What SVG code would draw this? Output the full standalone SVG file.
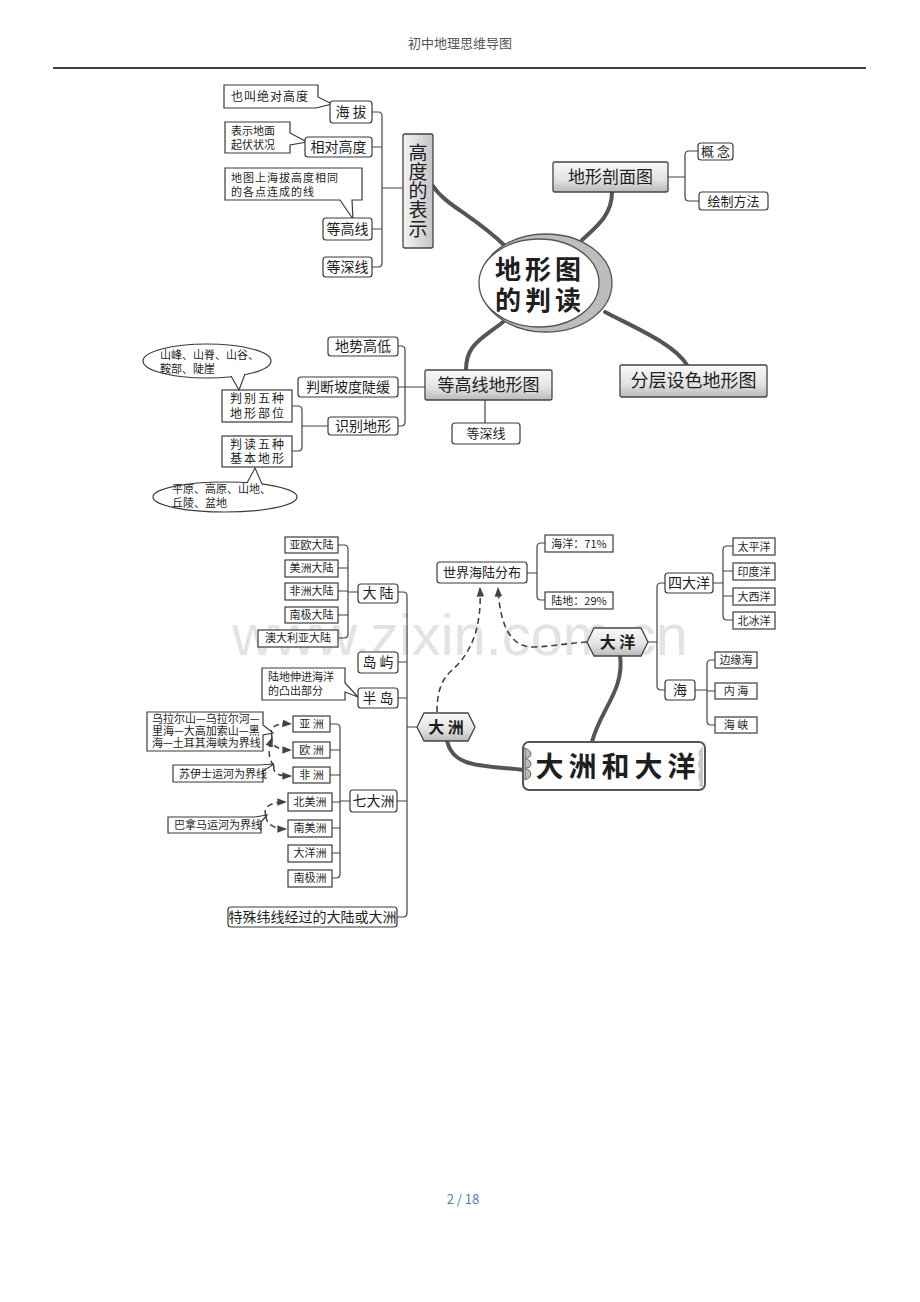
<svg xmlns="http://www.w3.org/2000/svg" width="920" height="1302" viewBox="0 0 920 1302">
<style>
.b{fill:#fff;stroke:#3a3a3a;stroke-width:1.2}
.g{fill:url(#gr);stroke:#444;stroke-width:1.3}
.gh{fill:url(#gh);stroke:#444;stroke-width:1.3}
.l{fill:none;stroke:#444;stroke-width:1.2}
.d{fill:none;stroke:#444;stroke-width:1.6;stroke-dasharray:6 4}
.c{fill:none;stroke:#555;stroke-width:4;stroke-linecap:round}
.t{font-family:"Noto Sans CJK SC","Noto Sans",sans-serif;fill:#1e1e1e;text-anchor:middle}
.s{font-family:"Noto Sans CJK SC","Noto Sans",sans-serif;fill:#1e1e1e;text-anchor:start;font-size:11px}
</style>
<defs>
<linearGradient id="gr" x1="0" y1="0" x2="0" y2="1"><stop offset="0" stop-color="#fafafa"/><stop offset="0.6" stop-color="#e2e2e2"/><stop offset="1" stop-color="#b9b9b9"/></linearGradient>
<linearGradient id="gh" x1="0" y1="0" x2="1" y2="0"><stop offset="0" stop-color="#f4f4f4"/><stop offset="1" stop-color="#c4c4c4"/></linearGradient>
<marker id="ar" viewBox="0 0 10 10" refX="9" refY="5" markerWidth="6" markerHeight="6" orient="auto"><path d="M0,1 L10,5 L0,9 Z" fill="#444"/></marker>
</defs>
<rect width="920" height="1302" fill="#fff"/>
<text x="460" y="655" font-family="Liberation Sans, sans-serif" font-size="57" fill="#e3e3e3" text-anchor="middle" textLength="456" lengthAdjust="spacingAndGlyphs">www.zixin.com.cn</text>
<g id="header"><text class="t" x="460" y="48" font-size="13" style="fill:#555">初中地理思维导图</text><line x1="53" y1="68" x2="866" y2="68" stroke="#000" stroke-width="1.3"/></g>
<g id="footer"><text class="t" x="463" y="1204" font-size="13" style="fill:#4f81bd">2 / 18</text></g>

<g id="connectors">
<path class="c" d="M433,186 C446,206 472,214 505,246"/>
<path class="c" d="M612,192 C612,215 597,226 582,240"/>
<path class="c" d="M503,322 C480,340 466,345 466,370"/>
<path class="c" d="M605,312 C640,330 675,345 687,365"/>
<path class="c" d="M447,740 C452,770 490,765 523,770"/>
<path class="c" d="M620,655 C625,690 600,710 592,742"/>
<path class="l" d="M372,112 H378 Q382,112 382,116 V263 Q382,267 378,267 H372 M372,147 H382 M372,229 H382 M382,188 H403"/>
<path class="l" d="M668,177 H685 M698,151 H689 Q685,151 685,155 V197 Q685,201 689,201 H699"/>
<path class="l" d="M485,400 V423"/>
<path class="l" d="M398,346 H401 Q405,346 405,350 V422 Q405,426 401,426 H398 M398,387 H425"/>
<path class="l" d="M292,406 H298 Q302,406 302,410 V447 Q302,451 298,451 H292 M302,426 H328"/>
<path class="l" d="M338,545 H344 Q348,545 348,549 V634 Q348,638 344,638 H338 M338,568 H348 M338,591 H348 M338,615 H348 M348,592 H358"/>
<path class="l" d="M398,592 H403 Q407,592 407,596 V913 Q407,917 403,917 H397 M398,662 H407 M398,698 H407 M397,801 H407 M407,727 H417"/>
<path class="l" d="M330,724 H336 Q340,724 340,728 V874 Q340,878 336,878 H332 M330,750 H340 M330,775 H340 M332,802 H340 M332,828 H340 M332,853 H340 M340,801 H350"/>
<path class="l" d="M527,573 H537 M545,543 H541 Q537,543 537,547 V596 Q537,600 541,600 H545"/>
<path class="l" d="M648,642 H657 M665,583 H661 Q657,583 657,587 V686 Q657,690 661,690 H665"/>
<path class="l" d="M713,583 H723 M733,546 H727 Q723,546 723,550 V616 Q723,620 727,620 H733 M723,571 H733 M723,596 H733"/>
<path class="l" d="M695,690 H707 M715,660 H711 Q707,660 707,664 V721 Q707,725 711,725 H715 M707,691 H715"/>
<path class="d" marker-end="url(#ar)" d="M437,712 C437,695 440,682 450,672 C470,655 482,630 480,588"/>
<path class="d" marker-end="url(#ar)" d="M587,642 C570,643 555,646 535,647 C510,648 500,625 498,588"/>
<path class="d" marker-end="url(#ar)" d="M272,736 C268,726 278,723 291,724"/>
<path class="d" marker-end="url(#ar)" d="M272,736 C270,746 278,750 291,750"/>
<path class="d" marker-end="url(#ar)" d="M274,766 C268,758 268,750 272,738"/>
<path class="d" marker-end="url(#ar)" d="M274,766 C272,774 280,776 291,776"/>
<path class="d" marker-end="url(#ar)" d="M266,816 C262,806 272,802 286,802"/>
<path class="d" marker-end="url(#ar)" d="M266,816 C266,824 274,829 286,829"/>
</g>

<g id="n-haiba-note"><path class="b" d="M224,85 H318 V97 L332,104 L316,108 H224 Z"/><text class="t" x="270" y="101" font-size="12" letter-spacing="1">也叫绝对高度</text></g>
<g id="n-haiba"><rect class="b" x="330" y="101" width="42" height="22" rx="3"/><text class="t" x="351" y="117" font-size="14">海 拔</text></g>
<g id="n-xiangdui-note"><path class="b" d="M225,122 H290 V133 L307,142 L290,145 V153 H225 Z"/><text class="s" x="231" y="135">表示地面</text><text class="s" x="231" y="149">起伏状况</text></g>
<g id="n-xiangdui"><rect class="b" x="305" y="137" width="67" height="20" rx="3"/><text class="t" x="338.5" y="152" font-size="14">相对高度</text></g>
<g id="n-denggao-note"><path class="b" d="M225,168 H362 V200 H352 L353,219 L340,200 H225 Z"/><text class="s" x="231" y="182" letter-spacing="1">地图上海拔高度相同</text><text class="s" x="231" y="196" letter-spacing="1">的各点连成的线</text></g>
<g id="n-denggaoxian"><rect class="b" x="323" y="218" width="49" height="22" rx="3"/><text class="t" x="347.5" y="234" font-size="14">等高线</text></g>
<g id="n-dengshenxian1"><rect class="b" x="323" y="257" width="49" height="20" rx="3"/><text class="t" x="347.5" y="272" font-size="14">等深线</text></g>
<g id="n-gaodu"><rect class="gh" x="403" y="134" width="30" height="114" rx="2"/>
<text class="t" font-size="19"><tspan x="418" y="160">高</tspan><tspan x="418" y="179">度</tspan><tspan x="418" y="198">的</tspan><tspan x="418" y="217">表</tspan><tspan x="418" y="236">示</tspan></text></g>

<g id="n-center"><ellipse cx="546" cy="283" rx="66" ry="49" fill="#bdbdbd" stroke="#555" stroke-width="1.3"/><ellipse cx="539" cy="283" rx="60" ry="44" fill="#fff" stroke="#555" stroke-width="1.3"/>
<text class="t" x="540" y="279" font-size="26" font-weight="bold" letter-spacing="4">地形图</text><text class="t" x="540" y="310" font-size="26" font-weight="bold" letter-spacing="4">的判读</text></g>

<g id="n-poumian"><rect class="g" x="553" y="162" width="115" height="30" rx="2"/><text class="t" x="610.5" y="183" font-size="17">地形剖面图</text></g>
<g id="n-gainian"><rect class="b" x="698" y="143" width="35" height="17" rx="3"/><text class="t" x="715.5" y="156" font-size="13">概 念</text></g>
<g id="n-huizhi"><rect class="b" x="699" y="192" width="69" height="18" rx="3"/><text class="t" x="733.5" y="206" font-size="13">绘制方法</text></g>

<g id="n-dgxdxt"><rect class="g" x="425" y="370" width="127" height="30" rx="2"/><text class="t" x="488.5" y="391" font-size="17">等高线地形图</text></g>
<g id="n-dengshenxian2"><rect class="b" x="452" y="423" width="68" height="21" rx="3"/><text class="t" x="486" y="438" font-size="13">等深线</text></g>
<g id="n-fenceng"><rect class="g" x="620" y="365" width="147" height="32" rx="2"/><text class="t" x="693.5" y="387" font-size="18">分层设色地形图</text></g>

<g id="n-dishi"><rect class="b" x="328" y="337" width="70" height="19" rx="3"/><text class="t" x="363" y="351" font-size="14">地势高低</text></g>
<g id="n-podu"><rect class="b" x="298" y="377" width="100" height="20" rx="3"/><text class="t" x="348" y="392" font-size="14">判断坡度陡缓</text></g>
<g id="n-shibie"><rect class="b" x="328" y="417" width="70" height="18" rx="3"/><text class="t" x="363" y="431" font-size="14">识别地形</text></g>
<g id="n-panbie"><rect class="b" x="222" y="390" width="70" height="32"/><text class="t" x="258" y="403" font-size="12" letter-spacing="2">判别五种</text><text class="t" x="258" y="418" font-size="12" letter-spacing="2">地形部位</text></g>
<g id="n-pandu"><rect class="b" x="222" y="436" width="70" height="31"/><text class="t" x="258" y="449" font-size="12" letter-spacing="2">判读五种</text><text class="t" x="258" y="463" font-size="12" letter-spacing="2">基本地形</text></g>
<g id="n-bubble1"><ellipse class="b" cx="207" cy="361" rx="64" ry="17"/><path d="M231,375 L239,390 L245,373 Z" fill="#fff"/><path class="l" d="M231,376 L239,390 L245,374"/>
<text class="s" x="160" y="359" font-size="10">山峰、山脊、山谷、</text><text class="s" x="160" y="373" font-size="10">鞍部、陡崖</text></g>
<g id="n-bubble2"><ellipse class="b" cx="225" cy="497" rx="72" ry="15"/><path d="M247,484 L255,468 L262,485 Z" fill="#fff"/><path class="l" d="M247,483 L255,468 L262,484"/>
<text class="s" x="172" y="493" font-size="10">平原、高原、山地、</text><text class="s" x="172" y="507" font-size="10">丘陵、盆地</text></g>

<g id="n-yaou"><rect class="b" x="285" y="537" width="53" height="16"/><text class="t" x="311.5" y="549" font-size="11">亚欧大陆</text></g>
<g id="n-meizhoudl"><rect class="b" x="285" y="560" width="53" height="17"/><text class="t" x="311.5" y="572" font-size="11">美洲大陆</text></g>
<g id="n-feizhoudl"><rect class="b" x="285" y="583" width="53" height="17"/><text class="t" x="311.5" y="595" font-size="11">非洲大陆</text></g>
<g id="n-nanjidl"><rect class="b" x="285" y="607" width="53" height="16"/><text class="t" x="311.5" y="619" font-size="11">南极大陆</text></g>
<g id="n-aodaliya"><rect class="b" x="258" y="630" width="80" height="17"/><text class="t" x="298" y="642" font-size="11">澳大利亚大陆</text></g>
<g id="n-dalu"><rect class="b" x="358" y="584" width="40" height="19" rx="3"/><text class="t" x="378" y="598" font-size="14">大 陆</text></g>
<g id="n-daoyu"><rect class="b" x="358" y="652" width="40" height="21" rx="3"/><text class="t" x="378" y="667" font-size="14">岛 屿</text></g>
<g id="n-bandao-note"><path class="b" d="M262,668 H345 V683 L358,697 L345,692 V700 H262 Z"/><text class="s" x="268" y="681">陆地伸进海洋</text><text class="s" x="268" y="695">的凸出部分</text></g>
<g id="n-bandao"><rect class="b" x="358" y="688" width="40" height="20" rx="3"/><text class="t" x="378" y="703" font-size="14">半 岛</text></g>
<g id="n-ural-note"><path class="b" d="M147,712 H263 V725 L273,733 L263,735 V751 H147 Z"/><text class="s" x="152" y="723" font-size="9.5">乌拉尔山—乌拉尔河—</text><text class="s" x="152" y="735" font-size="9.5">里海—大高加索山—黑</text><text class="s" x="152" y="747" font-size="9.5">海—土耳其海峡为界线</text></g>
<g id="n-suez-note"><path class="b" d="M173,765 H259 L274,764 L263,771 V782 H173 Z"/><text class="s" x="179" y="778" font-size="10">苏伊士运河为界线</text></g>
<g id="n-panama-note"><path class="b" d="M168,817 H255 L267,815 L261,822 V833 H168 Z"/><text class="s" x="174" y="829" font-size="10">巴拿马运河为界线</text></g>
<g id="n-yazhou"><rect class="b" x="293" y="716" width="37" height="16"/><text class="t" x="311.5" y="728" font-size="11">亚 洲</text></g>
<g id="n-ouzhou"><rect class="b" x="293" y="742" width="37" height="16"/><text class="t" x="311.5" y="754" font-size="11">欧 洲</text></g>
<g id="n-feizhou"><rect class="b" x="293" y="767" width="37" height="16"/><text class="t" x="311.5" y="779" font-size="11">非 洲</text></g>
<g id="n-beimei"><rect class="b" x="288" y="793" width="44" height="18"/><text class="t" x="310" y="806" font-size="11">北美洲</text></g>
<g id="n-nanmei"><rect class="b" x="288" y="820" width="44" height="17"/><text class="t" x="310" y="832" font-size="11">南美洲</text></g>
<g id="n-dayang-zhou"><rect class="b" x="288" y="845" width="44" height="17"/><text class="t" x="310" y="857" font-size="11">大洋洲</text></g>
<g id="n-nanjizhou"><rect class="b" x="288" y="870" width="44" height="17"/><text class="t" x="310" y="882" font-size="11">南极洲</text></g>
<g id="n-qidazhou"><rect class="b" x="350" y="790" width="47" height="22" rx="3"/><text class="t" x="373.5" y="806" font-size="14">七大洲</text></g>
<g id="n-teshu"><rect class="b" x="228" y="907" width="169" height="20" rx="3"/><text class="t" x="312.5" y="922" font-size="14">特殊纬线经过的大陆或大洲</text></g>

<g id="n-dazhou"><path class="g" d="M417,727 L424,713 H468 L475,727 L468,741 H424 Z"/><text class="t" x="446" y="733" font-size="16" font-weight="bold">大 洲</text></g>
<g id="n-dayang"><path class="g" d="M587,642 L594,628 H641 L648,642 L641,656 H594 Z"/><text class="t" x="617.5" y="648" font-size="16" font-weight="bold">大 洋</text></g>

<g id="n-shijie"><rect class="b" x="437" y="562" width="90" height="21" rx="3"/><text class="t" x="482" y="577" font-size="13">世界海陆分布</text></g>
<g id="n-haiyang71"><rect class="b" x="545" y="535" width="68" height="17"/><text class="t" x="579" y="548" font-size="11">海洋：71%</text></g>
<g id="n-ludi29"><rect class="b" x="545" y="592" width="68" height="17"/><text class="t" x="579" y="605" font-size="11">陆地：29%</text></g>

<g id="n-sidayang"><rect class="b" x="665" y="573" width="48" height="20" rx="3"/><text class="t" x="689" y="588" font-size="14">四大洋</text></g>
<g id="n-hai"><rect class="b" x="665" y="680" width="30" height="20" rx="3"/><text class="t" x="680" y="695" font-size="14">海</text></g>
<g id="n-taiping"><rect class="b" x="733" y="538" width="42" height="17"/><text class="t" x="754" y="551" font-size="11">太平洋</text></g>
<g id="n-yindu"><rect class="b" x="733" y="563" width="42" height="17"/><text class="t" x="754" y="576" font-size="11">印度洋</text></g>
<g id="n-daxi"><rect class="b" x="733" y="588" width="42" height="17"/><text class="t" x="754" y="601" font-size="11">大西洋</text></g>
<g id="n-beibing"><rect class="b" x="733" y="612" width="42" height="17"/><text class="t" x="754" y="625" font-size="11">北冰洋</text></g>
<g id="n-bianyuan"><rect class="b" x="715" y="652" width="42" height="16"/><text class="t" x="736" y="664" font-size="11">边缘海</text></g>
<g id="n-neihai"><rect class="b" x="715" y="683" width="42" height="16"/><text class="t" x="736" y="695" font-size="11">内 海</text></g>
<g id="n-haixia"><rect class="b" x="715" y="717" width="42" height="16"/><text class="t" x="736" y="729" font-size="11">海 峡</text></g>

<g id="n-main2"><rect x="523" y="742" width="182" height="48" rx="6" fill="#fff" stroke="#555" stroke-width="2"/>
<path d="M524,748 Q531,750 531,754 Q531,758 525,758 Q531,760 531,764 Q531,768 525,768 Q531,770 531,774 Q531,778 525,780 V748 Z" fill="#bbb" stroke="#666" stroke-width="1"/>
<path d="M703,746 Q696,752 700,758 Q696,764 700,770 Q696,776 700,782 Q697,786 703,788 Z" fill="#c8c8c8"/>
<text class="t" x="618" y="777" font-size="28" font-weight="bold" letter-spacing="5">大洲和大洋</text></g>
</svg>
